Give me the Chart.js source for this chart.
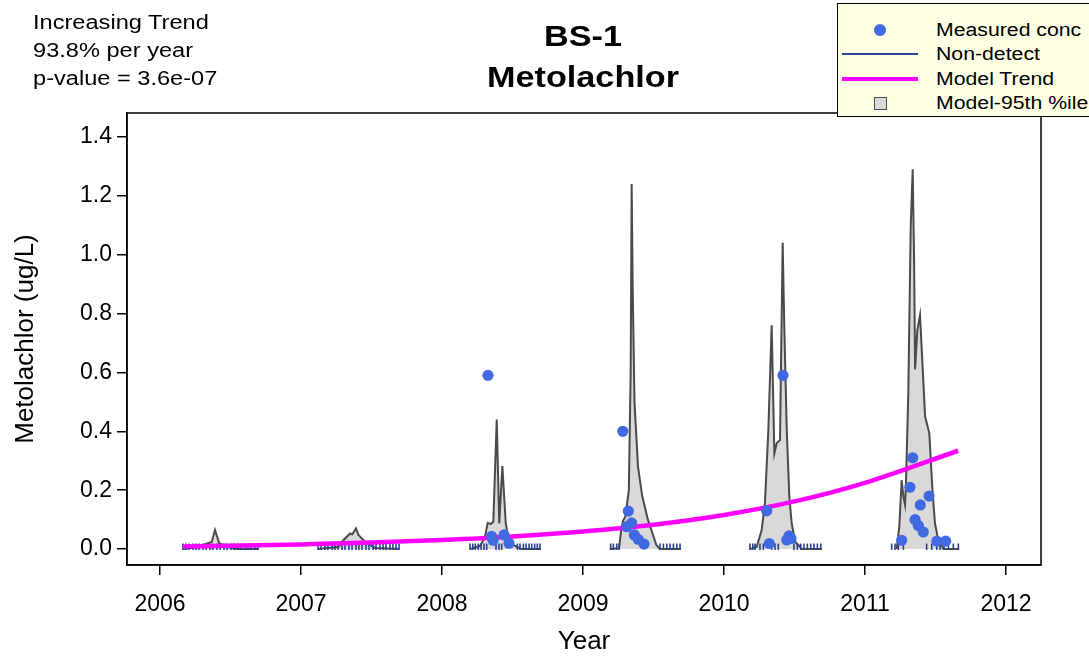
<!DOCTYPE html>
<html>
<head>
<meta charset="utf-8">
<title>BS-1 Metolachlor</title>
<script src="https://cdn.jsdelivr.net/npm/chart.js@4.4.1/dist/chart.umd.min.js"></script>
<style>
  html, body { margin: 0; padding: 0; background: #fff; }
  #wrap { position: relative; width: 1089px; height: 656px; overflow: hidden;
          font-family: 'Liberation Sans', Arial, sans-serif; color: #000; }
  #chart { position: absolute; left: 0; top: 0; }
  .txt { position: absolute; white-space: nowrap; transform-origin: 0 0; transform: scaleX(1.18); }
  #stats { left: 33px; top: 8px; font-size: 20px; line-height: 28px; }
  #title { left: 583px; top: 16px; font-size: 29px; line-height: 41px; font-weight: bold;
           text-align: center; transform: translateX(-50%) scaleX(1.18); transform-origin: 50% 0; }
  #legend { position: absolute; left: 837px; top: 3px; width: 270px; height: 112px;
            border: 1.5px solid #000; background: #ffffe4; }
  .lg-text { position: absolute; left: 936px; font-size: 18px; line-height: 24px; white-space: nowrap;
             transform-origin: 0 0; transform: scaleX(1.18); }
  .sym { position: absolute; }
</style>
</head>
<body>
<div id="wrap">
  <canvas id="chart" width="1089" height="656"></canvas>

  <div class="txt" id="stats">Increasing Trend<br>93.8% per year<br>p-value = 3.6e-07</div>
  <div class="txt" id="title">BS-1<br>Metolachlor</div>

  <div id="legend"></div>
  <div class="sym" style="left:874px;top:24px;width:12px;height:12px;border-radius:50%;background:#4169e1;"></div>
  <div class="sym" style="left:842px;top:53px;width:76px;height:1.6px;background:#2b45a0;"></div>
  <div class="sym" style="left:842px;top:77px;width:76px;height:4px;background:#ff00ff;"></div>
  <div class="sym" style="left:874px;top:97px;width:11px;height:11px;background:#d9d9d9;border:1.5px solid #4d4d4d;"></div>
  <div class="lg-text" style="top:18px;">Measured conc</div>
  <div class="lg-text" style="top:42px;">Non-detect</div>
  <div class="lg-text" style="top:67px;">Model Trend</div>
  <div class="lg-text" style="top:91px;">Model-95th %ile</div>
</div>

<script>
/* BS-1 Metolachlor — seasonal model band, trend and samples */

// measured (detected) concentrations, ug/L
const measYears = [2008.326, 2008.352, 2008.362, 2008.440, 2008.475,
                   2009.282, 2009.310, 2009.321, 2009.345, 2009.364, 2009.392, 2009.433,
                   2010.303, 2010.321, 2010.418, 2010.445, 2010.461, 2010.475,
                   2011.260, 2011.319, 2011.338, 2011.355, 2011.378, 2011.392, 2011.413,
                   2011.454, 2011.509, 2011.572];
const measVals  = [0.59, 0.043, 0.030, 0.048, 0.020,
                   0.40, 0.076, 0.129, 0.089, 0.048, 0.033, 0.017,
                   0.13, 0.019, 0.59, 0.031, 0.045, 0.036,
                   0.030, 0.21, 0.31, 0.10, 0.080, 0.15, 0.058,
                   0.18, 0.027, 0.027];

// non-detect sample dates (drawn as short ticks at the reporting level)
const ndYears = [
  2006.163, 2006.184, 2006.206, 2006.234, 2006.255, 2006.277, 2006.305, 2006.326, 2006.355, 2006.376,
  2006.404, 2006.426, 2006.454, 2006.475, 2006.504, 2006.525, 2006.553, 2006.574, 2006.603, 2006.624,
  2006.645, 2006.674, 2006.695,
  2007.121, 2007.142, 2007.170, 2007.191, 2007.220, 2007.241, 2007.262, 2007.291, 2007.312, 2007.340,
  2007.362, 2007.390, 2007.411, 2007.433, 2007.461, 2007.482, 2007.511, 2007.532, 2007.560, 2007.582,
  2007.603, 2007.631, 2007.652, 2007.674, 2007.695,
  2008.199, 2008.218, 2008.236, 2008.257, 2008.277, 2008.298, 2008.317, 2008.383, 2008.404, 2008.423,
  2008.534, 2008.553, 2008.577, 2008.596, 2008.617, 2008.636, 2008.657, 2008.676, 2008.695,
  2009.196, 2009.215, 2009.239, 2009.257, 2009.546, 2009.570, 2009.594, 2009.617, 2009.641, 2009.665,
  2009.688,
  2010.184, 2010.204, 2010.220, 2010.255, 2010.279, 2010.338, 2010.362, 2010.385, 2010.496, 2010.520,
  2010.544, 2010.567, 2010.591, 2010.615, 2010.638, 2010.662, 2010.686,
  2011.189, 2011.213, 2011.236, 2011.272, 2011.437, 2011.473, 2011.509, 2011.532, 2011.560, 2011.591,
  2011.626, 2011.662
];
const ndLevel = 0.008;

// model trend
const trendYears = [2006.165, 2006.5, 2007.0, 2007.5, 2008.0, 2008.5, 2009.0, 2009.5, 2010.0, 2010.5, 2011.0, 2011.66];
const trendVals  = [0.009, 0.011, 0.016, 0.022, 0.031, 0.043, 0.060, 0.083, 0.116, 0.162, 0.225, 0.334];

// model 95th percentile, one polygon per sampling season
const band2006Years = [2006.165, 2006.27, 2006.34, 2006.367, 2006.39, 2006.42, 2006.485, 2006.544, 2006.70];
const band2006Vals  = [0, 0.007, 0.020, 0.024, 0.065, 0.020, 0.006, 0, 0];
const band2007Years = [2007.118, 2007.265, 2007.29, 2007.348, 2007.364, 2007.39, 2007.407, 2007.454, 2007.525, 2007.695];
const band2007Vals  = [0, 0.007, 0.025, 0.053, 0.050, 0.070, 0.048, 0.025, 0.004, 0];
const band2008Years = [2008.199, 2008.27, 2008.305, 2008.324, 2008.345, 2008.364, 2008.388, 2008.406, 2008.428, 2008.452, 2008.47, 2008.506, 2008.565, 2008.70];
const band2008Vals  = [0, 0.011, 0.042, 0.089, 0.085, 0.093, 0.44, 0.087, 0.282, 0.088, 0.036, 0.014, 0, 0];
const band2009Years = [2009.191, 2009.255, 2009.27, 2009.283, 2009.30, 2009.325, 2009.338, 2009.345, 2009.352, 2009.365, 2009.39, 2009.42, 2009.46, 2009.485, 2009.52, 2009.546, 2009.695];
const band2009Vals  = [0, 0.003, 0.060, 0.095, 0.110, 0.20, 0.60, 1.24, 0.90, 0.50, 0.28, 0.18, 0.10, 0.065, 0.014, 0, 0];
const band2010Years = [2010.184, 2010.232, 2010.267, 2010.29, 2010.314, 2010.338, 2010.357, 2010.374, 2010.397, 2010.416, 2010.428, 2010.445, 2010.463, 2010.48, 2010.504, 2010.539, 2010.551, 2010.695];
const band2010Vals  = [0, 0.008, 0.065, 0.155, 0.40, 0.76, 0.325, 0.36, 0.37, 1.04, 0.744, 0.404, 0.178, 0.087, 0.025, 0.008, 0, 0];
const band2011Years = [2011.225, 2011.243, 2011.26, 2011.272, 2011.284, 2011.291, 2011.307, 2011.324, 2011.338, 2011.348, 2011.355, 2011.371, 2011.39, 2011.406, 2011.426, 2011.456, 2011.477, 2011.496, 2011.52, 2011.556, 2011.667];
const band2011Vals  = [0, 0.076, 0.234, 0.178, 0.150, 0.234, 0.53, 1.095, 1.29, 0.98, 0.61, 0.744, 0.795, 0.642, 0.45, 0.393, 0.21, 0.087, 0.030, 0, 0];

// axis ticks
const xTicks = [2006, 2007, 2008, 2009, 2010, 2011, 2012];
const yTicks = [0.0, 0.2, 0.4, 0.6, 0.8, 1.0, 1.2, 1.4];

const FONT = "'Liberation Sans', Arial, sans-serif";
const xy = (xs, ys) => xs.map((x, i) => ({ x, y: ys[i] }));

const bands = [
  [band2006Years, band2006Vals], [band2007Years, band2007Vals], [band2008Years, band2008Vals],
  [band2009Years, band2009Vals], [band2010Years, band2010Vals], [band2011Years, band2011Vals]
].map(([ys, vs]) => ({
  type: 'line', data: xy(ys, vs), borderColor: '#4a4a4a', borderWidth: 2,
  backgroundColor: '#d9d9d9', fill: 'origin', pointRadius: 0, tension: 0, order: 3
}));

// plot frame (R's box())
const boxPlugin = {
  id: 'box',
  afterDraw(chart) {
    const { ctx, chartArea: a } = chart;
    ctx.save();
    ctx.strokeStyle = '#000'; ctx.lineWidth = 1.5;
    ctx.strokeRect(a.left, a.top, a.right - a.left, a.bottom - a.top);
    ctx.restore();
  }
};

new Chart(document.getElementById('chart'), {
  type: 'scatter',
  data: { datasets: [
    { type: 'scatter', data: xy(measYears, measVals), pointRadius: 5.6, pointBorderWidth: 0,
      pointBackgroundColor: '#4169e1', order: 0 },
    { type: 'line', data: xy(trendYears, trendVals), borderColor: '#ff00ff', borderWidth: 4.5,
      pointRadius: 0, cubicInterpolationMode: 'monotone', fill: false, order: 1 },
    { type: 'scatter', data: ndYears.map(x => ({ x, y: ndLevel })), pointStyle: 'line', rotation: 90,
      pointRadius: 3.2, pointBorderWidth: 1.6, pointBorderColor: '#27408b', order: 2 },
    ...bands
  ]},
  options: {
    responsive: false, animation: false, devicePixelRatio: 1,
    layout: { padding: { left: 0, top: 113, right: 48, bottom: 0 } },
    plugins: { legend: { display: false }, tooltip: { enabled: false } },
    scales: {
      x: {
        type: 'linear', position: 'bottom', min: 2005.766, max: 2012.248,
        afterFit: s => { s.height = 91; },
        afterBuildTicks: s => { s.ticks = xTicks.map(v => ({ value: v })); },
        ticks: { color: '#000', font: { family: FONT, size: 23 }, padding: 16, maxRotation: 0,
                 autoSkip: false, callback: v => String(v) },
        grid: { drawOnChartArea: false, drawTicks: true, tickLength: 10, color: '#000', lineWidth: 1.5 },
        border: { display: true, color: '#000', width: 1.5 },
        title: { display: true, text: 'Year', color: '#000', font: { family: FONT, size: 26 },
                 padding: { top: 0, bottom: -1 } }
      },
      y: {
        type: 'linear', position: 'left', min: -0.054, max: 1.481,
        afterFit: s => { s.width = 127; },
        afterBuildTicks: s => { s.ticks = yTicks.map(v => ({ value: v })); },
        ticks: { color: '#000', font: { family: FONT, size: 23 }, padding: 5,
                 callback: v => v.toFixed(1) },
        grid: { drawOnChartArea: false, drawTicks: true, tickLength: 10, color: '#000', lineWidth: 1.5 },
        border: { display: true, color: '#000', width: 1.5 },
        title: { display: true, text: 'Metolachlor (ug/L)', color: '#000', font: { family: FONT, size: 26 },
                 padding: { top: 10, bottom: 0 } }
      }
    }
  },
  plugins: [boxPlugin]
});
</script>
</body>
</html>
